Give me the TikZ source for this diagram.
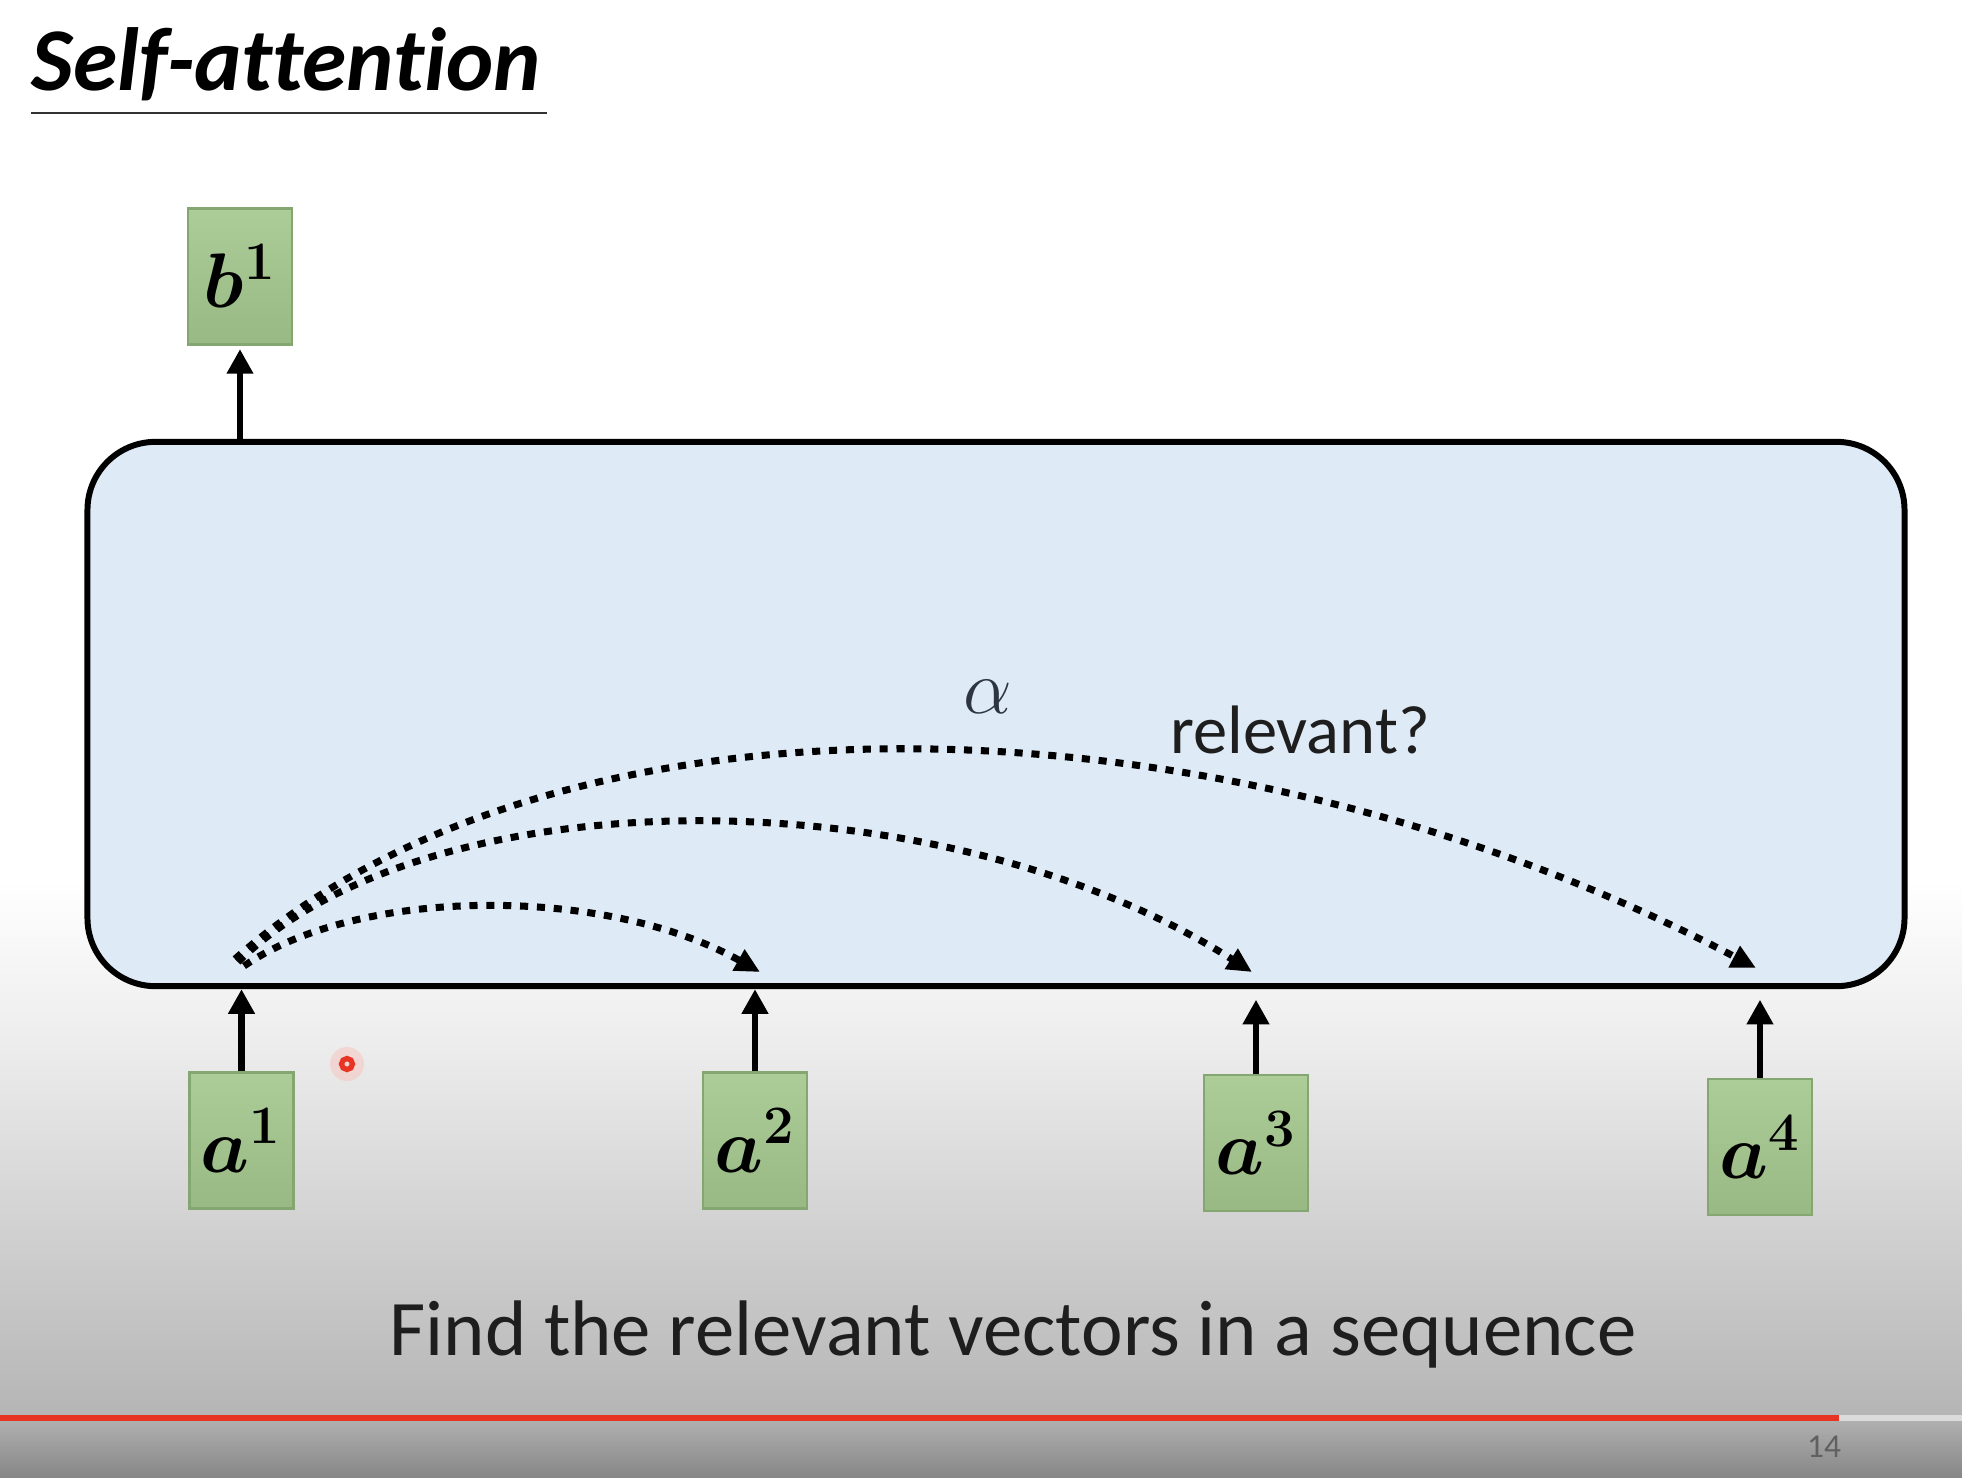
\RequirePackage{fix-cm}
\documentclass[tikz,border=0pt]{standalone}
\usepackage{fontspec}
\setmainfont[Ligatures=NoCommon]{Carlito}
\usetikzlibrary{arrows.meta}
\definecolor{rectfill}{RGB}{222,234,245}
\definecolor{boxtop}{RGB}{172,204,152}
\definecolor{boxbot}{RGB}{152,184,132}
\definecolor{boxline}{RGB}{132,166,112}
\definecolor{bgA}{RGB}{236,236,236}
\definecolor{bgB}{RGB}{181,181,181}
\definecolor{bgC}{RGB}{176,176,176}
\definecolor{bgD}{RGB}{134,134,134}
\definecolor{barred}{RGB}{232,52,36}
\definecolor{barlight}{RGB}{220,220,220}
\definecolor{alphacol}{RGB}{45,52,66}
\definecolor{txt}{RGB}{30,30,30}
\tikzset{
  vecbox/.style={draw=boxline, line width=0.6pt, top color=boxtop, bottom color=boxbot,
    minimum width=1.04cm, minimum height=1.36cm, inner sep=0pt,
    font=\fontsize{22}{26}\selectfont\boldmath},
  uparrow/.style={line width=1.9pt, -{Triangle[length=7pt,width=7.2pt]}},
  dotarc/.style={line width=2pt, dash pattern=on 2.3pt off 2.5pt, -{Triangle[length=7pt,width=6.5pt]}},
}
\begin{document}
\begin{tikzpicture}[x=0.01cm,y=-0.01cm]
\useasboundingbox (0,0) rectangle (1962,1478);
% background
\fill[white] (0,0) rectangle (1962,880);
\shade[top color=white, bottom color=bgA] (0,879) rectangle (1962,1050);
\shade[top color=bgA, bottom color=bgB] (0,1049) rectangle (1962,1416);
\shade[top color=bgC, bottom color=bgD] (0,1420) rectangle (1962,1478);
\fill[barred] (0,1415) rectangle (1839,1421);
\fill[barlight] (1839,1415) rectangle (1962,1421);
\node[text=gray!75!black, font=\fontsize{9.5}{11}\selectfont] (page) at (1824,1447) {14};

% title
\node[anchor=base west, inner sep=0pt, font=\fontsize{25.5}{30}\selectfont\bfseries\itshape] (title) at (31,90) {Self-attention};
\coordinate (ul1) at (31,113);
\coordinate (ul2) at (547,113);
\draw[line width=0.8pt, color=black!80] (ul1) -- (ul2);

% self-attention block
\node[draw, line width=1.7pt, fill=rectfill, rounded corners=0.68cm,
  minimum width=18.16cm, minimum height=5.44cm, inner sep=0pt] (sa) at (996,714) {};

% boxes
\node[vecbox] (b1) at (240,276.5) {$b^{1}$};
\node[vecbox] (a1) at (241.5,1140.5) {$a^{1}$};
\node[vecbox] (a2) at (755,1140.5) {$a^{2}$};
\node[vecbox] (a3) at (1256,1143) {$a^{3}$};
\node[vecbox] (a4) at (1760,1147) {$a^{4}$};

% arrows
\draw[uparrow, shorten >=1pt] (b1.south |- sa.north) -- (b1.south);
\draw[uparrow] (a1.north) -- (a1.north |- sa.south);
\draw[uparrow] (a2.north) -- (a2.north |- sa.south);
\draw[uparrow, shorten >=3pt] (a3.north) -- (a3.north |- sa.south);
\draw[uparrow, shorten >=3pt] (a4.north) -- (a4.north |- sa.south);

% attention arcs
\coordinate (s1) at (244,966);
\coordinate (s2) at (238,962);
\coordinate (s3) at (235,959);
\coordinate (e2) at (760,972);
\coordinate (e3) at (1252,972);
\coordinate (e4) at (1756,968);
\draw[dotarc] (s1) .. controls (360,886) and (607,886) .. (e2);
\draw[dotarc] (s2) .. controls (430,774) and (941,774) .. (e3);
\draw[dotarc] (s3) .. controls (560,670) and (1225,688) .. (e4);

% labels
\node[anchor=base, inner sep=0pt, text=alphacol, font=\fontsize{22}{26}\selectfont] (alpha) at (988,713) {$\alpha$};
\node[anchor=base, inner sep=0pt, text=txt, font=\fontsize{19.5}{23}\selectfont] (rel) at (1300,753) {relevant?};
\node[anchor=base, inner sep=0pt, text=txt, font=\fontsize{22.4}{27}\selectfont] (caption) at (1013,1355) {Find the relevant vectors in a sequence};

% cursor
\coordinate (cur) at (347,1064);
\fill[barred!30, opacity=0.5] (cur) circle (17);
\draw[barred, line width=1.5pt] (cur) circle (5.5);
\end{tikzpicture}
\end{document}
